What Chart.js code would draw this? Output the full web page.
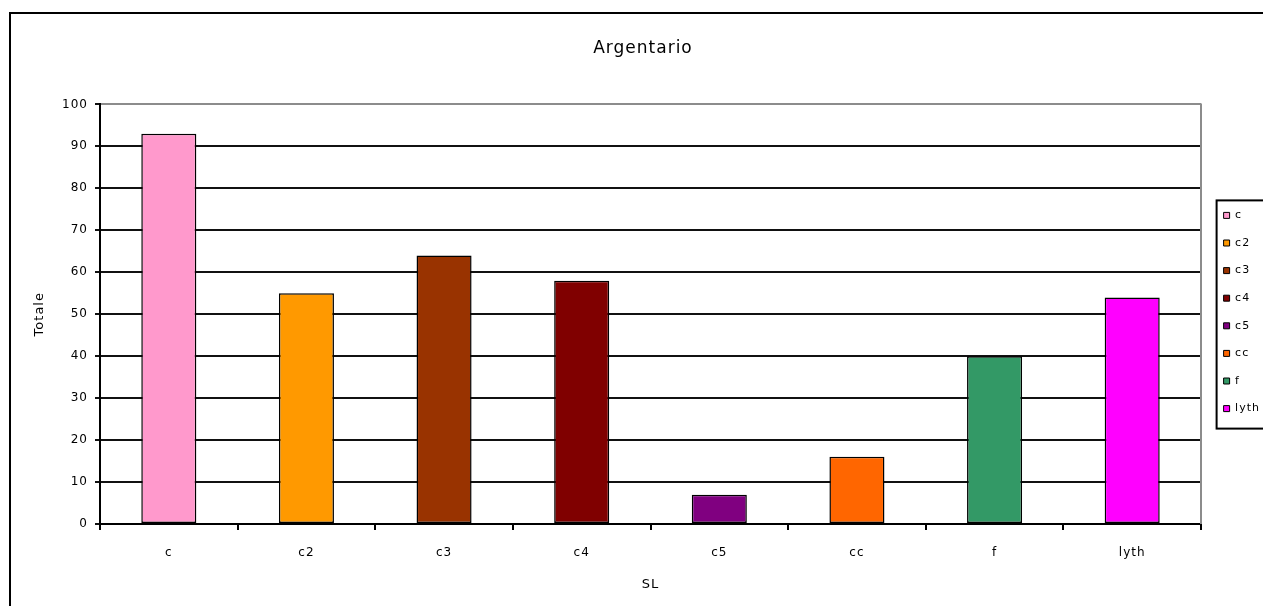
<!DOCTYPE html>
<html>
<head>
<meta charset="utf-8">
<title>Argentario</title>
<script src="https://cdn.jsdelivr.net/npm/chart.js@4/dist/chart.umd.min.js"></script>
<style>
  html, body { margin: 0; padding: 0; background: #fff; overflow: hidden; width: 1263px; height: 606px; }
  #frame { position: absolute; left: 9px; top: 12px; width: 2000px; height: 2000px; border: 2px solid #000; }
  #chart { position: absolute; left: 0; top: 0; }
</style>
</head>
<body>
<div id="frame"></div>
<canvas id="chart" width="1300" height="606"></canvas>
<script>
// Totals per SL class for Argentario
const categories = ['c', 'c2', 'c3', 'c4', 'c5', 'cc', 'f', 'lyth'];
const totals = [93, 55, 64, 58, 7, 16, 40, 54];
const barColors = ['#FF99CC', '#FF9900', '#993300', '#800000', '#800080', '#FF6600', '#339966', '#FF00FF'];

const FONT = "'DejaVu Sans', 'Liberation Sans', sans-serif";

// wide, slightly spaced lettering for every text item
const spacing = {
  id: 'spacing',
  beforeUpdate(chart) { chart.ctx.letterSpacing = '1px'; },
  beforeLayout(chart) { chart.ctx.letterSpacing = '1px'; },
  beforeDraw(chart) { chart.ctx.letterSpacing = '1px'; }
};

// grey border on the right side of the plot area
const plotBorder = {
  id: 'plotBorder',
  beforeDatasetsDraw(chart) {
    const { ctx, chartArea } = chart;
    ctx.save();
    ctx.strokeStyle = '#8c8c8c';
    ctx.lineWidth = 2;
    ctx.beginPath();
    ctx.moveTo(chartArea.right, chartArea.top - 1);
    ctx.lineTo(chartArea.right, chartArea.bottom);
    ctx.stroke();
    ctx.restore();
  }
};

// boxed legend frame around the legend entries
const legendFrame = {
  id: 'legendFrame',
  afterDraw(chart) {
    const boxes = chart.legend && chart.legend.legendHitBoxes;
    if (!boxes || !boxes.length) return;
    const first = boxes[0], last = boxes[boxes.length - 1];
    const { ctx } = chart;
    const x = first.left - 7;
    const y0 = first.top + first.height / 2 - 15;
    const y1 = last.top + last.height / 2 + 20;
    ctx.save();
    ctx.strokeStyle = '#000';
    ctx.lineWidth = 2;
    ctx.strokeRect(x, y0, chart.width + 20 - x, y1 - y0);
    ctx.restore();
  }
};

new Chart(document.getElementById('chart'), {
  type: 'bar',
  data: {
    labels: categories,
    datasets: [{
      label: 'Totale',
      data: totals,
      backgroundColor: barColors,
      borderColor: '#000',
      borderWidth: 1.5,
      borderSkipped: false,
      categoryPercentage: 1,
      barPercentage: 0.4
    }]
  },
  options: {
    responsive: false,
    animation: false,
    devicePixelRatio: 1,
    layout: { padding: { left: 17, right: 31, top: 0, bottom: 0 } },
    plugins: {
      title: {
        display: true,
        text: 'Argentario',
        color: '#000',
        font: { family: FONT, size: 17, weight: 'normal' },
        padding: { top: 38, bottom: 46 }
      },
      legend: {
        position: 'right',
        maxWidth: 62,
        title: {
          display: true,
          text: ' ',
          font: { family: FONT, size: 10 },
          padding: 3
        },
        labels: {
          color: '#000',
          font: { family: FONT, size: 11 },
          boxWidth: 6,
          boxHeight: 6,
          padding: 16.6,
          generateLabels: () => categories.map((name, i) => ({
            text: name,
            fillStyle: barColors[i],
            strokeStyle: '#000',
            lineWidth: 1,
            hidden: false,
            index: i,
            fontColor: '#000'
          }))
        }
      },
      tooltip: { enabled: false }
    },
    scales: {
      x: {
        grid: {
          offset: true,
          drawOnChartArea: false,
          drawTicks: true,
          tickLength: 6,
          color: '#000',
          lineWidth: 2
        },
        border: { display: true, color: '#000', width: 2 },
        ticks: {
          color: '#000',
          font: { family: FONT, size: 12 },
          padding: 16,
          maxRotation: 0
        },
        title: {
          display: true,
          text: 'SL',
          color: '#000',
          font: { family: FONT, size: 13 },
          padding: { top: 0, bottom: 14 }
        },
        afterFit(scale) { scale.height = 82; }
      },
      y: {
        min: 0,
        max: 100,
        ticks: {
          stepSize: 10,
          color: '#000',
          font: { family: FONT, size: 12 },
          padding: 7
        },
        grid: {
          color: (ctx) => (ctx.tick && ctx.tick.value === 100 ? '#8c8c8c' : '#111'),
          tickColor: '#111',
          lineWidth: 2,
          tickLength: 5
        },
        border: { display: true, color: '#000', width: 2 },
        title: {
          display: true,
          text: 'Totale',
          color: '#000',
          font: { family: FONT, size: 13 },
          padding: { top: 15, bottom: 0 }
        },
        afterFit(scale) { scale.width = 83; }
      },
      // narrow spacer between the plot and the legend
      gap: {
        type: 'linear',
        position: 'right',
        display: true,
        grid: { display: false, drawTicks: false },
        border: { display: false },
        ticks: { display: false },
        afterFit(scale) { scale.width = 6; }
      }
    }
  },
  plugins: [spacing, plotBorder, legendFrame]
});
</script>
</body>
</html>
